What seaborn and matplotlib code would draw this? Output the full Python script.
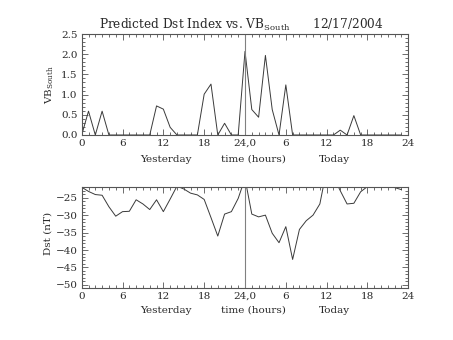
import numpy as np
import pandas as pd
import seaborn as sns
import matplotlib
matplotlib.use("Agg")
import matplotlib.pyplot as plt
from matplotlib.ticker import MultipleLocator, FixedLocator

hours = list(range(48))
vb_south = [0, 0.59, 0, 0.59, 0, 0, 0, 0, 0, 0,
            0, 0.72, 0.64, 0.19, 0, 0, 0, 0, 1.01, 1.26,
            0, 0.29, 0, 0, 2.07, 0.63, 0.44, 1.97, 0.63, 0,
            1.24, 0, 0, 0, 0, 0, 0, 0, 0.12, 0,
            0.48, 0, 0, 0, 0, 0, 0, 0]
dst = [-22.0, -23.2, -24.1, -24.3, -27.6, -30.3, -29.0, -28.9, -25.6, -26.8,
       -28.4, -25.6, -29.0, -25.4, -21.7, -22.5, -23.7, -24.2, -25.5, -30.7,
       -36.0, -29.7, -29.0, -25.2, -19.5, -29.7, -30.5, -30.0, -35.2, -37.9,
       -33.3, -42.7, -34.1, -31.6, -30.0, -26.8, -17.0, -19.0, -23.0, -26.8,
       -26.6, -23.3, -21.8, -21.4, -21.3, -21.5, -22.1, -22.7]
xtick_pos = [0, 6, 12, 18, 24, 30, 36, 42, 48]
xtick_labels = ["0", "6", "12", "18", "24,0", "6", "12", "18", "24"]
vb_ticks = [0.0, 0.5, 1.0, 1.5, 2.0, 2.5]
dst_ticks = [-25, -30, -35, -40, -45, -50]
title = "Predicted Dst Index vs. VB$_{\\mathregular{South}}$      12/17/2004"

sns.set_style("white")
plt.rcParams['font.family'] = ['DejaVu Serif']
plt.rcParams['mathtext.default'] = 'regular'

W, H = 453, 340
fig = plt.figure(figsize=(W / 100, H / 100), dpi=100)
fig.patch.set_facecolor("white")

def fx(px):
    return px / W

def fy(py):
    return 1 - py / H

left, right = 81.7, 408.3
ax1 = fig.add_axes([fx(left), fy(135), fx(right - left), fy(34) - fy(135)])
ax2 = fig.add_axes([fx(left), fy(287.7), fx(right - left), fy(186.7) - fy(287.7)])

df = pd.DataFrame({"hour": hours, "vb": vb_south, "dst": dst})
line_col = "#3a3a3a"
sns.lineplot(data=df, x="hour", y="vb", ax=ax1, color=line_col, lw=0.7)
sns.lineplot(data=df, x="hour", y="dst", ax=ax2, color=line_col, lw=0.7)

txt_col = "#2a2a2a"
ax1.set_ylim(0, 2.5)
ax2.set_ylim(-50.8, -21.85)
ax1.yaxis.set_major_locator(FixedLocator(vb_ticks))
ax1.set_yticklabels([f"{v:.1f}" for v in vb_ticks])
ax1.yaxis.set_minor_locator(MultipleLocator(0.1))
ax2.yaxis.set_major_locator(FixedLocator(dst_ticks))
ax2.set_yticklabels([f"\u2212{abs(v):d}" for v in dst_ticks])
ax2.yaxis.set_minor_locator(MultipleLocator(1))

for ax in (ax1, ax2):
    ax.set_xlim(0, 48)
    ax.xaxis.set_major_locator(FixedLocator(xtick_pos))
    ax.set_xticklabels(xtick_labels)
    ax.xaxis.set_minor_locator(MultipleLocator(1))
    ax.axvline(24, color="#808080", lw=0.8)
    ax.set_xlabel("")
    ax.set_ylabel("")
    for s in ax.spines.values():
        s.set_visible(True)
        s.set_color("#555555")
        s.set_linewidth(0.8)
    ax.tick_params(which="both", direction="in", top=True, right=True,
                   bottom=True, left=True, color="#555555", width=0.6,
                   labelsize=7.5, labelcolor=txt_col, pad=3)
    ax.tick_params(which="major", length=4)
    ax.tick_params(which="minor", length=2)

for yc in (159.5, 310.5):
    fig.text(fx(166), fy(yc), "Yesterday", ha="center", va="center", fontsize=7.5, color=txt_col)
    fig.text(fx(253), fy(yc), "time (hours)", ha="center", va="center", fontsize=7.5, color=txt_col)
    fig.text(fx(334.5), fy(yc), "Today", ha="center", va="center", fontsize=7.5, color=txt_col)

fig.text(fx(241), fy(25), title, ha="center", va="center", fontsize=8.7, color=txt_col)
fig.text(fx(50), fy(85), "VB$_{\\mathregular{South}}$", ha="center", va="center",
         rotation=90, fontsize=7.5, color=txt_col)
fig.text(fx(47.7), fy(233), "Dst (nT)", ha="center", va="center",
         rotation=90, fontsize=7.5, color=txt_col)

fig.savefig("out.png", dpi=100, facecolor="white")
